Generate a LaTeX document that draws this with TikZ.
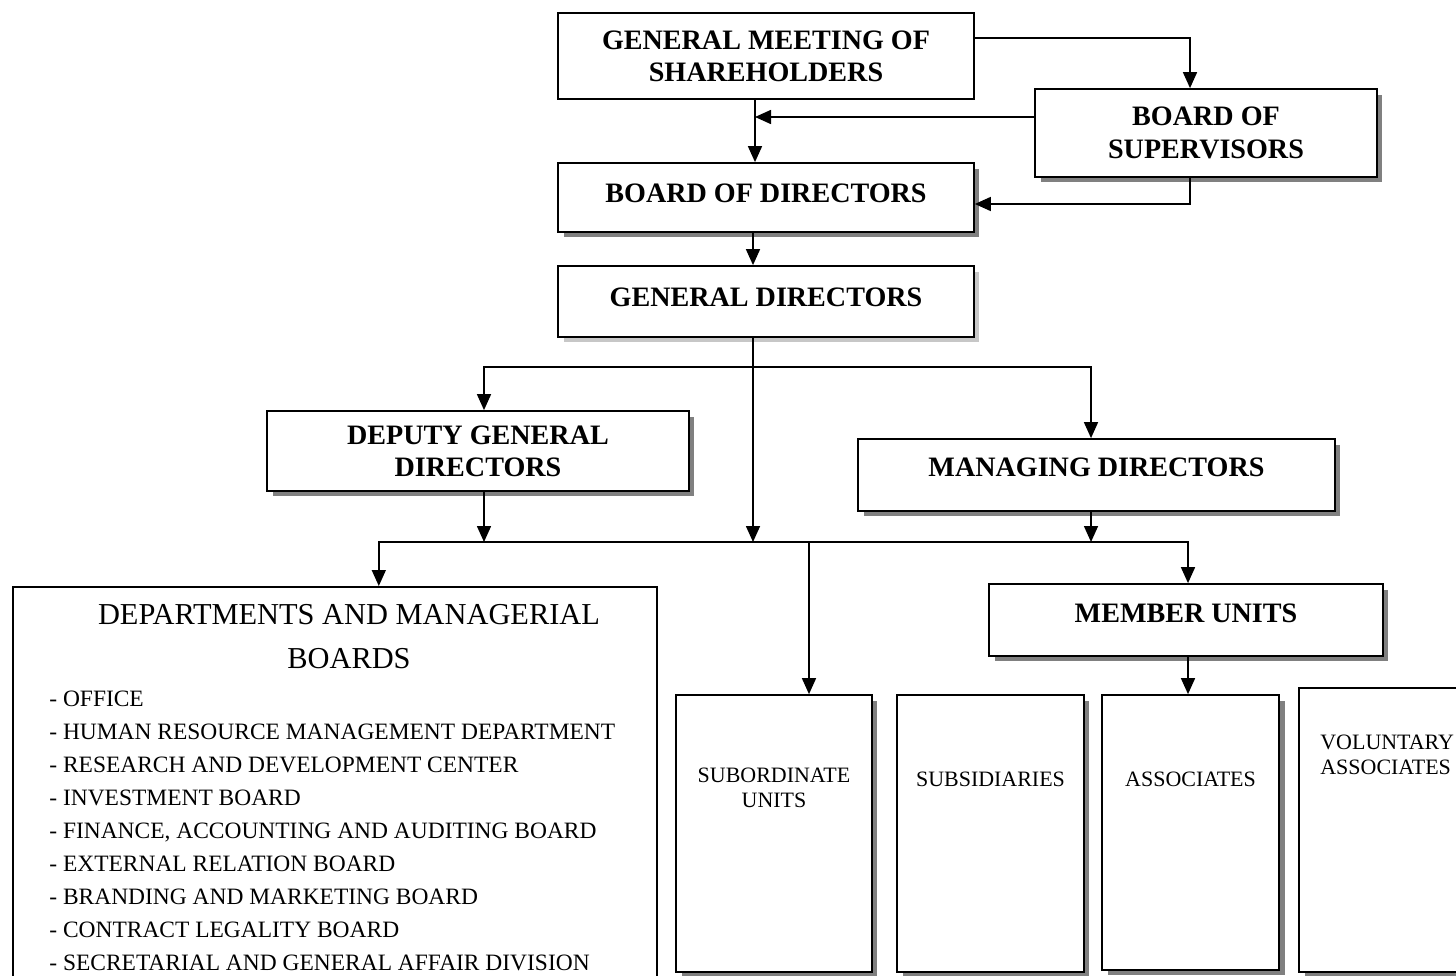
\documentclass[tikz,border=0pt]{standalone}
\usepackage{fontspec}
\setmainfont{Liberation Serif}
\usetikzlibrary{arrows.meta,shadows}

\tikzset{
  orgbox/.style={draw, line width=1pt, fill=white, align=center, inner sep=2pt,
    font=\fontsize{16}{18.4}\selectfont\bfseries},
  shadowed/.style={drop shadow={shadow xshift=0.11cm, shadow yshift=-0.11cm, fill=black!50, opacity=1}},
  unitbox/.style={draw, line width=1pt, fill=white},
  unittext/.style={align=center, inner sep=0pt, font=\fontsize{12.5}{14.5}\selectfont},
  conn/.style={line width=0.9pt, -{Triangle[length=0.32cm,width=0.28cm]}}
}

\begin{document}
\begin{tikzpicture}[x=0.02cm, y=-0.02cm]
	\useasboundingbox (0,0) rectangle (1456,976);
	\clip (0,0) rectangle (1456,976);

	% top boards
	\node [orgbox, minimum width=8.32cm, minimum height=1.72cm] (gms) at (766,56) {GENERAL MEETING OF\\SHAREHOLDERS};
	\node [orgbox, shadowed, minimum width=6.84cm, minimum height=1.76cm] (bos) at (1206,133) {BOARD OF\\SUPERVISORS};
	\node [orgbox, shadowed, text depth=0.18cm, minimum width=8.32cm, minimum height=1.38cm] (bod) at (766,197.5) {BOARD OF DIRECTORS};
	\node [orgbox, drop shadow={shadow xshift=0.11cm, shadow yshift=-0.11cm, fill=black!22, opacity=1},
		text depth=0.16cm, minimum width=8.32cm, minimum height=1.42cm] (gd) at (766,301.5) {GENERAL DIRECTORS};

	% second level
	\node [orgbox, shadowed, minimum width=8.44cm, minimum height=1.6cm] (dgd) at (478,451) {DEPUTY GENERAL\\DIRECTORS};
	\node [orgbox, shadowed, text depth=0.32cm, minimum width=9.54cm, minimum height=1.44cm] (md) at (1096.5,475) {MANAGING DIRECTORS};
	\node [orgbox, shadowed, text depth=0.28cm, minimum width=7.88cm, minimum height=1.44cm] (mu) at (1186,620) {MEMBER UNITS};

	% departments
	\node [draw, line width=1pt, fill=white, minimum width=12.88cm, minimum height=9cm, anchor=north west] (dept) at (12,586) {};
	\node [align=center, inner sep=0pt, font=\fontsize{17.3}{25}\selectfont] (depttitle) at (349,637) {DEPARTMENTS AND MANAGERIAL\\BOARDS};
	\node [align=left, inner sep=0pt, anchor=west, font=\fontsize{13.35}{18.8}\selectfont] (deptlist) at (49,831)
		{- OFFICE\\
		- HUMAN RESOURCE MANAGEMENT DEPARTMENT\\
		- RESEARCH AND DEVELOPMENT CENTER\\
		- INVESTMENT BOARD\\
		- FINANCE, ACCOUNTING AND AUDITING BOARD\\
		- EXTERNAL RELATION BOARD\\
		- BRANDING AND MARKETING BOARD\\
		- CONTRACT LEGALITY BOARD\\
		- SECRETARIAL AND GENERAL AFFAIR DIVISION};

	% units
	\node [unitbox, shadowed, minimum width=3.92cm, minimum height=5.54cm] (sub) at (774,833.5) {};
	\node [unitbox, shadowed, minimum width=3.74cm, minimum height=5.54cm] (subs) at (990.5,833.5) {};
	\node [unitbox, shadowed, minimum width=3.54cm, minimum height=5.5cm] (assoc) at (1190.5,832.5) {};
	\node [unitbox, shadowed, minimum width=3.62cm, minimum height=5.68cm] (vol) at (1389.5,830) {};
	\node [unittext] (subtext) at (774,788) {SUBORDINATE\\UNITS};
	\node [unittext] (substext) at (990.5,779) {SUBSIDIARIES};
	\node [unittext] (assoctext) at (1190.5,779) {ASSOCIATES};
	\node [unittext, align=left, anchor=west] (voltext) at (1320,755) {VOLUNTARY\\ASSOCIATES};

	% connectors
	\coordinate (mid) at (755,117);
	\coordinate (split) at (753,367);
	\coordinate (bus) at (753,542);

	\draw [conn] (gms.east |- 0,38) -| ([xshift=-0.32cm]bos.north);
	\draw [conn] (bos.west |- mid) -- (mid);
	\draw [conn] (gms.south -| mid) -- (bod.north -| mid);
	\draw [conn] ([xshift=-0.32cm]bos.south) |- ([yshift=-0.13cm]bod.east);
	\draw [conn] (bod.south -| split) -- (gd.north -| split);
	\draw [conn] (gd.south -| split) -- (bus);
	\draw [conn] (split) -| ([xshift=0.12cm]dgd.north);
	\draw [conn] (split) -| ([xshift=-0.11cm]md.north);
	\draw [conn] ([xshift=0.12cm]dgd.south) -- ([xshift=0.12cm]dgd.south |- bus);
	\draw [conn] ([xshift=-0.11cm]md.south) -- ([xshift=-0.11cm]md.south |- bus);
	\draw [conn] (bus) -| ([xshift=0.88cm]dept.north);
	\draw [conn] (bus) -| ([xshift=0.04cm]mu.north);
	\draw [conn] ([xshift=0.7cm]sub.north |- bus) -- ([xshift=0.7cm]sub.north);
	\draw [conn] ([xshift=0.04cm]mu.south) -- ([xshift=0.04cm]mu.south |- assoc.north);
\end{tikzpicture}
\end{document}
